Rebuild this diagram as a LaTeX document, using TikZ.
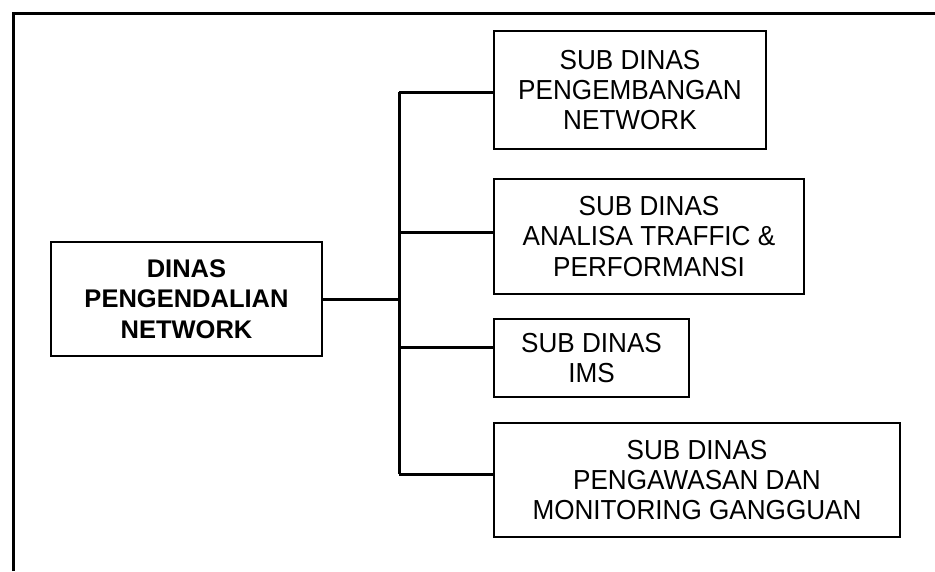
\documentclass[tikz,border=0pt]{standalone}
\usepackage{fontspec}
\setmainfont[FakeStretch=0.95]{Liberation Sans}
\newfontfamily\boldmain{Liberation Sans Bold}
\begin{document}
\begin{tikzpicture}[x=1pt,y=-1pt,
  subbox/.style={draw,line width=1.5pt,inner sep=0pt,align=center,
    font={\fontsize{27.5}{30.3}\selectfont}},
  mainbox/.style={draw,line width=1.5pt,inner sep=0pt,align=center,
    font={\boldmain\fontsize{25.5}{30.5}\selectfont}},
  link/.style={line width=3pt},
  frame/.style={line width=3pt}]
\useasboundingbox (0,0) rectangle (935,571);
% outer frame (left and top edges)
\coordinate (fbl) at (13,571);
\coordinate (ftl) at (13,13);
\coordinate (ftr) at (935,13);
\draw[frame] (fbl) -- (ftl) -- (ftr);
% main box
\node[mainbox,minimum width=271pt,minimum height=114pt] (main) at (186.5,299)
  {DINAS\\PENGENDALIAN\\NETWORK};
% sub boxes
\node[subbox,minimum width=272pt,minimum height=118pt] (s1) at (630,90)
  {SUB DINAS\\PENGEMBANGAN\\NETWORK};
\node[subbox,minimum width=310pt,minimum height=115pt] (s2) at (649,236.5)
  {SUB DINAS\\ANALISA TRAFFIC \&\\PERFORMANSI};
\node[subbox,minimum width=195pt,minimum height=78pt] (s3) at (591.5,358)
  {SUB DINAS\\IMS};
\node[subbox,minimum width=406pt,minimum height=114pt] (s4) at (697,480)
  {SUB DINAS\\PENGAWASAN DAN\\MONITORING GANGGUAN};
% bus coordinates
\coordinate (b1) at (399,92);
\coordinate (b2) at (399,232);
\coordinate (bm) at (399,299);
\coordinate (b3) at (399,347);
\coordinate (b4) at (399,474);
% connectors
\draw[link] (b1) -- (b4);
\draw[link] (main.east |- bm) -- (bm);
\draw[link] (b1) -- (b1 -| s1.west);
\draw[link] (b2) -- (b2 -| s2.west);
\draw[link] (b3) -- (b3 -| s3.west);
\draw[link] (b4) -- (b4 -| s4.west);
\end{tikzpicture}
\end{document}
